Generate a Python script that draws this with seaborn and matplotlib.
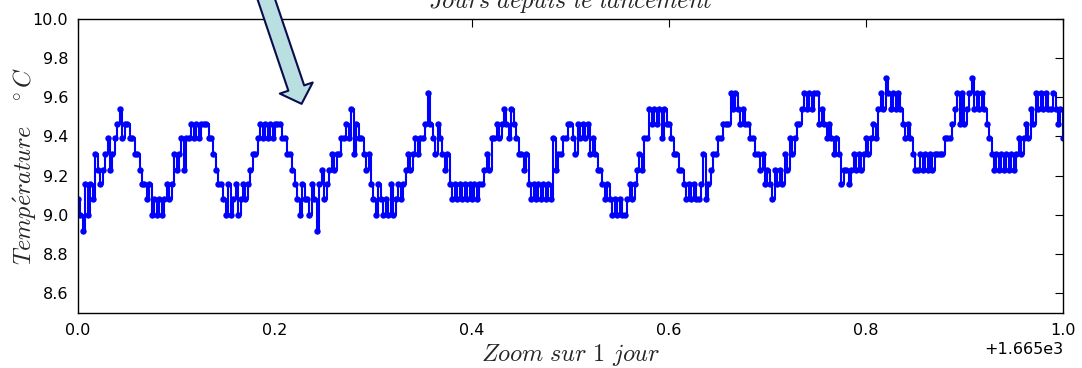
import numpy as np
import pandas as pd
import matplotlib
matplotlib.use("Agg")
import matplotlib.pyplot as plt
import seaborn as sns

# Quantised sensor levels (deg C); the probe reports one of these steps
LEVELS = [8.92, 9.00, 9.08, 9.155, 9.23, 9.31, 9.39, 9.465, 9.54, 9.62, 9.70]

# One day of readings, as indices into LEVELS (regular sampling over the day)
level_codes = [
    2, 1, 0, 3, 1, 3, 2, 5, 4, 3,
    4, 5, 6, 4, 5, 6, 7, 8, 6, 7,
    7, 6, 6, 5, 5, 4, 3, 3, 2, 3,
    1, 2, 1, 2, 1, 2, 3, 2, 3, 5,
    4, 5, 6, 4, 6, 6, 7, 6, 7, 6,
    7, 7, 7, 6, 6, 5, 4, 3, 3, 2,
    1, 3, 1, 2, 3, 1, 2, 3, 2, 3,
    4, 5, 5, 6, 7, 6, 7, 6, 7, 6,
    7, 7, 7, 6, 6, 5, 5, 4, 3, 2,
    1, 3, 2, 2, 1, 3, 2, 0, 3, 4,
    2, 3, 4, 5, 4, 5, 5, 6, 6, 7,
    6, 8, 5, 7, 6, 6, 5, 4, 5, 3,
    2, 1, 3, 2, 1, 2, 1, 3, 1, 2,
    3, 2, 3, 4, 5, 4, 5, 6, 5, 6,
    6, 7, 9, 7, 6, 5, 7, 6, 5, 4,
    5, 3, 2, 3, 2, 3, 2, 3, 2, 3,
    2, 3, 2, 3, 3, 4, 5, 4, 6, 6,
    7, 6, 7, 8, 7, 6, 8, 7, 6, 5,
    5, 4, 5, 3, 2, 3, 2, 3, 2, 3,
    2, 3, 2, 6, 4, 5, 5, 6, 6, 7,
    7, 6, 5, 7, 6, 7, 6, 7, 5, 6,
    5, 4, 4, 3, 2, 3, 2, 1, 2, 1,
    2, 1, 1, 2, 3, 2, 3, 4, 5, 4,
    6, 6, 8, 7, 8, 7, 8, 6, 8, 7,
    7, 6, 5, 5, 4, 4, 3, 2, 3, 2,
    3, 2, 2, 3, 5, 2, 3, 4, 5, 5,
    6, 6, 7, 7, 7, 9, 8, 9, 8, 7,
    8, 7, 7, 6, 6, 5, 5, 4, 5, 3,
    4, 3, 2, 4, 3, 4, 3, 5, 4, 6,
    5, 6, 7, 7, 8, 9, 8, 9, 8, 9,
    9, 7, 8, 7, 6, 7, 6, 5, 6, 5,
    3, 4, 4, 3, 4, 5, 4, 5, 4, 5,
    6, 5, 6, 7, 6, 8, 9, 8, 10, 9,
    8, 9, 8, 9, 8, 7, 6, 7, 6, 5,
    4, 4, 5, 4, 5, 4, 5, 4, 5, 5,
    5, 5, 6, 6, 6, 7, 8, 9, 7, 9,
    7, 8, 9, 10, 8, 9, 8, 9, 8, 7,
    6, 5, 4, 5, 4, 5, 4, 5, 4, 5,
    4, 5, 6, 5, 6, 7, 6, 8, 7, 9,
    8, 9, 8, 9, 8, 8, 9, 8, 7, 8,
    6,
]

DAY_START = 1665.0          # days since launch at the start of the zoom
DAY_LENGTH = 1.0
Y_TICKS = [8.6, 8.8, 9.0, 9.2, 9.4, 9.6, 9.8, 10.0]
X_TICKS = [1665.0, 1665.2, 1665.4, 1665.6, 1665.8, 1666.0]

# annotation arrow pointing at this reading
ARROW_TIP = (1665.227, 9.566)

n = len(level_codes)
df = pd.DataFrame({
    "jour": DAY_START + DAY_LENGTH * np.arange(n) / (n - 1),
    "temperature": [LEVELS[c] for c in level_codes],
})

sns.set_style("white")
plt.rcParams["font.family"] = ["DejaVu Sans"]
plt.rcParams["mathtext.fontset"] = "cm"

fig = plt.figure(figsize=(10.82, 3.68), dpi=100)
ax = fig.add_axes([0.0721, 0.1495, 0.9103, 0.7997])

# the probe holds each reading until the next one: draw as a staircase
sns.lineplot(data=df, x="jour", y="temperature", ax=ax,
             color="#0000ff", marker="o", markersize=4.6,
             markeredgewidth=0, linewidth=1.5, drawstyle="steps-post",
             estimator=None, sort=False)

ax.set_xlim(DAY_START, DAY_START + DAY_LENGTH)
ax.set_ylim(8.5, 10.0)
ax.set_xticks(X_TICKS)
ax.set_yticks(Y_TICKS)
ax.ticklabel_format(axis="x", useOffset=DAY_START)

for s in ax.spines.values():
    s.set_color("black")
    s.set_linewidth(1.0)
ax.tick_params(direction="in", top=True, right=True, length=6, width=0.8,
               labelsize=11.5, pad=7, colors="black")
ax.xaxis.get_offset_text().set_fontsize(11.5)

ax.set_xlabel(r"$Zoom\ sur\ 1\ jour$", fontsize=17.5)
ax.set_ylabel(r"$Temp\acute{e}rature\quad^\circ C$", fontsize=17.5)
ax.xaxis.set_label_coords(0.5, -0.1)
ax.yaxis.set_label_coords(-0.04, 0.5)

# label of the panel above, partly cut by the figure edge
fig.text(0.527, 0.978, r"$Jours\ depuis\ le\ lancement$", fontsize=17.5,
         ha="center", va="baseline")

ax.annotate("", xy=ARROW_TIP, xycoords="data",
            xytext=(0.205, 1.36), textcoords="figure fraction",
            arrowprops=dict(facecolor="#b9dfe1", edgecolor="#0b0b4f",
                            width=12, headwidth=25, headlength=12,
                            linewidth=1.5, shrink=0),
            annotation_clip=False)

fig.savefig("out.png", dpi=100)
